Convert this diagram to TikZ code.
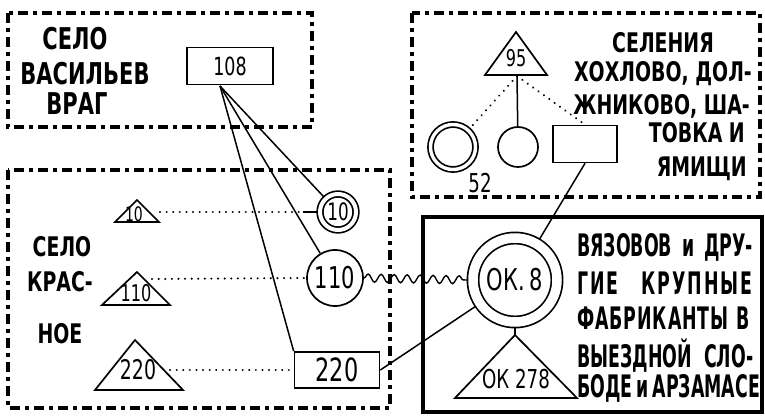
\documentclass[tikz,border=0pt]{standalone}
\usepackage{fontspec}
\newfontfamily\lettering[FakeStretch=0.7, BoldFeatures={FakeStretch=0.7}]{DejaVu Sans}
\newfontfamily\narrowlettering[FakeStretch=0.56, BoldFeatures={FakeStretch=0.56}]{DejaVu Sans}
\usetikzlibrary{calc,decorations.pathmorphing}

\tikzset{
  areabox/.style={line width=3.2pt, dash pattern=on 10pt off 5pt on 4pt off 5pt},
  hand/.style={font=\lettering\bfseries\fontsize{#1}{#1}\selectfont, inner sep=0pt},
  narrowhand/.style={font=\narrowlettering\bfseries\fontsize{#1}{#1}\selectfont, inner sep=0pt},
  num/.style={font=\lettering\fontsize{#1}{#1}\selectfont},
  numbox/.style={draw, line width=1.7pt, inner sep=0pt},
  ring/.style={draw, circle, line width=1.7pt, inner sep=0pt},
  tri/.style={line width=1.7pt, line join=miter},
  dotline/.style={line width=2.2pt, dash pattern=on 0.1pt off 6.5pt, line cap=round},
  link/.style={line width=1.5pt},
  wave/.style={line width=1.4pt, decorate, decoration={snake, segment length=13pt, amplitude=4pt}}
}

\begin{document}
\begin{tikzpicture}[x=1pt,y=-1pt]
  \useasboundingbox (0,0) rectangle (765,419);
  % areas
  \draw[areabox] (8,13) rectangle (312,127);
  \draw[areabox] (8,170) rectangle (390,408);
  \draw[areabox] (412,13) rectangle (760,197);
  \draw[line width=3.5pt] (423,217) rectangle (762,412);

  % village names
  \node[hand=30, anchor=base] (v1) at (75,50) {СЕЛО};
  \node[hand=30, anchor=base] (v2) at (85,85) {ВАСИЛЬЕВ};
  \node[hand=30, anchor=base] (v3) at (77,115) {ВРАГ};

  \node[hand=27, anchor=base] (k1) at (62,257) {СЕЛО};
  \node[hand=27, anchor=base] (k2) at (60,292) {КРАС-};
  \node[hand=27, anchor=base] (k3) at (60,343) {НОЕ};

  \node[hand=27, anchor=base] (s1) at (663,53) {СЕЛЕНИЯ};
  \node[hand=27, anchor=base east] (s2) at (752,82) {ХОХЛОВО, ДОЛ-};
  \node[hand=27, anchor=base east] (s3) at (750,115) {ЖНИКОВО, ША-};
  \node[hand=27, anchor=base east] (s4) at (745,143) {ТОВКА И};
  \node[hand=27, anchor=base east] (s5) at (747,177) {ЯМИЩИ};

  \node[narrowhand=31, anchor=base west] (f1) at (577,257) {\makebox[176pt][s]{ВЯЗОВОВ и ДРУ-}};
  \node[narrowhand=31, anchor=base west] (f2) at (577,295) {\addfontfeature{LetterSpace=6}\makebox[175pt][s]{ГИЕ КРУПНЫЕ}};
  \node[narrowhand=31, anchor=base west] (f3) at (577,330) {\addfontfeature{LetterSpace=3}\makebox[173pt][s]{ФАБРИКАНТЫ В}};
  \node[narrowhand=31, anchor=base west] (f4) at (577,367) {\makebox[176pt][s]{ВЫЕЗДНОЙ СЛО-}};
  \node[narrowhand=31, anchor=base west] (f5) at (577,397) {\makebox[173pt][s]{БОДЕ и АРЗАМАСЕ}};

  % households
  \node[numbox, minimum width=86pt, minimum height=37pt, num=25] (b108) at (230,66) {108};
  \node[ring, double, double distance=4pt, outer sep=3pt, minimum size=36pt, num=24] (c10) at (338,212) {10};
  \node[ring, minimum size=56pt, outer sep=1pt, num=30] (c110) at (335,278) {110};
  \node[numbox, minimum width=85pt, minimum height=36pt, num=32] (b220) at (337,370) {220};

  \node[ring, double, double distance=3.4pt, outer sep=3pt, minimum size=45pt] (c52) at (453,147) {};
  \node[ring, minimum size=40pt] (c95) at (518,147) {};
  \node[numbox, minimum width=64pt, minimum height=37pt] (r95) at (585,144) {};
  \node[num=26] (n52) at (480,183) {52};

  \node[ring, double, double distance=9.5pt, outer sep=6pt, minimum size=84pt, num=30] (ok8) at (515,280) {ОК.\,8};

  % triangles
  \draw[tri] (137,200) -- (159,222) -- (115,222) -- cycle;
  \node[num=20] (t10) at (134,214) {10};
  \draw[tri] (137,272) -- (170,305) -- (102,305) -- cycle;
  \node[num=23] (t110) at (136,293) {110};
  \draw[tri] (135,340) -- (183,390) -- (95,390) -- cycle;
  \node[num=27] (t220) at (138,370) {220};
  \draw[tri] (516,32) -- (547,75) -- (485,75) -- cycle;
  \node[num=23] (t95) at (516,58) {95};
  \draw[tri] (515,335) -- (577,398) -- (455,398) -- cycle;
  \node[num=26] (t278) at (516,379) {ОК 278};

  \coordinate (fan) at (220,86);
  \coordinate (t10e) at (160,212);
  \coordinate (d10) at (303,212);
  \coordinate (t110e) at (152,279);
  \coordinate (t220e) at (170,370);
  \coordinate (t95b) at (517,76);
  \coordinate (t278a) at (515,335);

  % connections
  \draw[link] (fan) -- (c10);
  \draw[link] (fan) -- (c110);
  \draw[link] (fan) -- (b220.north west);
  \draw[dotline] (t10e) -- (d10);
  \draw[link] (d10) -- (c10.west);
  \draw[dotline] (t110e) -- (c110.west);
  \draw[dotline] (t220e) -- (b220.west);
  \draw[wave] (c110.east) -- (ok8.west);
  \draw[link] (b220.east) -- (ok8);
  \draw[link] (ok8.south) -- (t278a);
  \draw[dotline] (t95b) -- (c52);
  \draw[link] (t95b) -- (c95);
  \draw[dotline] (t95b) -- (r95.north);
  \draw[link] (r95.south) -- (ok8);
\end{tikzpicture}
\end{document}
